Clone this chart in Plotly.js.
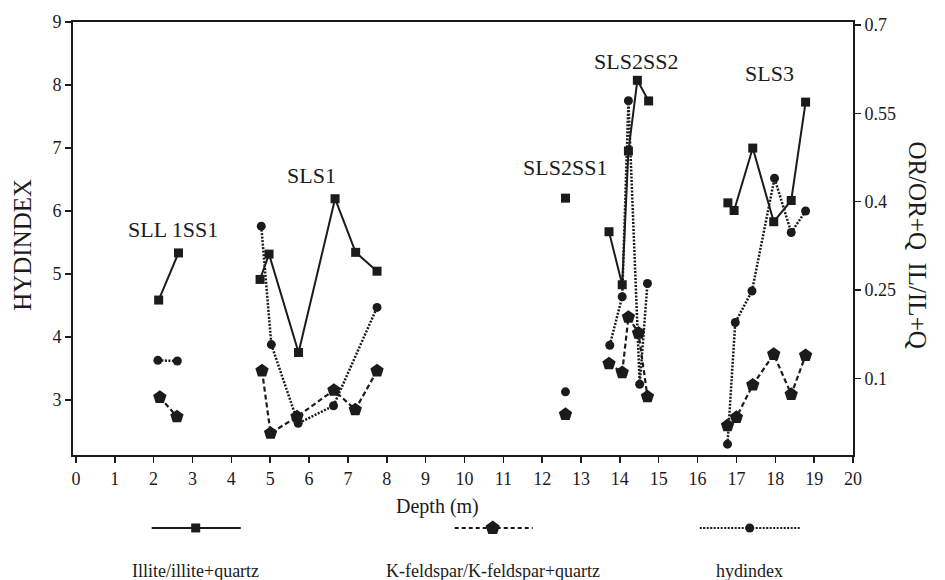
<!DOCTYPE html>
<html>
<head>
<meta charset="utf-8">
<script src="https://cdn.plot.ly/plotly-3.0.1.min.js"></script>
<style>
  html, body { margin: 0; padding: 0; background: #ffffff; }
  #chart { width: 945px; height: 580px; }
</style>
</head>
<body>
<div id="chart"></div>
<script>
// ---- data (depth in m) ----
const illiteDepth = [2.13, 2.64, null, 4.74, 4.97, 5.73, 6.67, 7.20, 7.75, null, 12.60, null, 13.72, 14.06, 14.22, 14.45, 14.74, null, 16.78, 16.94, 17.42, 17.96, 18.41, 18.78];
const illiteRatio = [0.233, 0.313, null, 0.268, 0.311, 0.144, 0.405, 0.314, 0.282, null, 0.406, null, 0.349, 0.259, 0.486, 0.606, 0.571, null, 0.398, 0.385, 0.491, 0.366, 0.402, 0.569];

const kfeldDepth = [2.16, 2.60, null, 4.79, 5.01, 5.69, 6.64, 7.19, 7.75, null, 12.60, null, 13.72, 14.06, 14.22, 14.48, 14.71, null, 16.77, 17.00, 17.42, 17.96, 18.41, 18.78];
const kfeldRatio = [0.068, 0.035, null, 0.113, 0.007, 0.035, 0.080, 0.047, 0.113, null, 0.039, null, 0.125, 0.110, 0.204, 0.177, 0.069, null, 0.020, 0.034, 0.089, 0.141, 0.073, 0.139];

const hydDepth = [2.11, 2.61, null, 4.77, 5.03, 5.72, 6.63, 7.75, null, 12.60, null, 13.74, 14.06, 14.22, 14.51, 14.71, null, 16.77, 16.97, 17.40, 17.98, 18.41, 18.78];
const hydIndex = [3.63, 3.62, null, 5.76, 3.88, 2.63, 2.91, 4.47, null, 3.13, null, 3.87, 4.64, 7.75, 3.25, 4.85, null, 2.30, 4.23, 4.73, 6.52, 5.66, 6.00];

const groupLabels = ["SLL 1SS1", "SLS1", "SLS2SS1", "SLS2SS2", "SLS3"];
const groupLabelDepth = [2.49, 6.06, 12.60, 14.42, 17.85];
const groupLabelHyd = [5.70, 6.57, 6.69, 8.37, 8.19];

const xTicks = [0,1,2,3,4,5,6,7,8,9,10,11,12,13,14,15,16,17,18,19,20];
const yLeftTicks = [3,4,5,6,7,8,9];
const yRightTicks = [0.1, 0.25, 0.4, 0.55, 0.7];
const yRightTickText = ["0.1", "0.25", "0.4", "0.55", "0.7"];

const seriesNames = ["Illite/illite+quartz", "K-feldspar/K-feldspar+quartz", "hydindex"];

// ---- styling ----
const INK = "#1b1b1b";
const FONT = "Liberation Serif, Times New Roman, serif";

const traces = [
  {
    x: illiteDepth, y: illiteRatio, yaxis: "y2", name: seriesNames[0],
    mode: "lines+markers", connectgaps: false,
    line: { color: INK, width: 2 },
    marker: { symbol: "square", size: 9, color: INK }
  },
  {
    x: kfeldDepth, y: kfeldRatio, yaxis: "y2", name: seriesNames[1],
    mode: "lines+markers", connectgaps: false,
    line: { color: INK, width: 2.2, dash: "5px,3px" },
    marker: { symbol: "pentagon", size: 14, color: INK }
  },
  {
    x: hydDepth, y: hydIndex, yaxis: "y", name: seriesNames[2],
    mode: "lines+markers", connectgaps: false,
    line: { color: INK, width: 2.5, dash: "2px,1.5px" },
    marker: { symbol: "circle", size: 9, color: INK }
  }
];

// ---- legend drawn beneath the chart (symbol above text) ----
const L = 73.3, W = 780, B = 455, H = 433.3;
const px = v => (v - L) / W;
const py = v => (B - v) / H;
const legY = 528, legTextY = 571;
const legItems = [
  { x0: 152, x1: 241, mx: 196, dash: "solid", w: 2 },
  { x0: 455, x1: 533, mx: 493, dash: "4px,3px", w: 2 },
  { x0: 700, x1: 800, mx: 750, dash: "2px,1.5px", w: 2 }
];
const shapes = [];
legItems.forEach((it, i) => {
  shapes.push({ type: "line", xref: "paper", yref: "paper", x0: px(it.x0), x1: px(it.x1), y0: py(legY), y1: py(legY),
    line: { color: INK, width: it.w, dash: it.dash } });
});
// square
shapes.push({ type: "rect", xref: "paper", yref: "paper", xsizemode: "pixel", ysizemode: "pixel",
  xanchor: px(legItems[0].mx), yanchor: py(legY), x0: -4.5, x1: 4.5, y0: -4.5, y1: 4.5,
  fillcolor: INK, line: { width: 0 } });
// pentagon
(function(){
  const r = 7.5; let p = "";
  for (let k = 0; k < 5; k++) {
    const a = Math.PI / 2 + k * 2 * Math.PI / 5;
    p += (k === 0 ? "M" : "L") + (r * Math.cos(a)).toFixed(2) + "," + (r * Math.sin(a)).toFixed(2);
  }
  p += "Z";
  shapes.push({ type: "path", xref: "paper", yref: "paper", xsizemode: "pixel", ysizemode: "pixel",
    xanchor: px(legItems[1].mx), yanchor: py(legY), path: p, fillcolor: INK, line: { width: 0 } });
})();
// circle
shapes.push({ type: "circle", xref: "paper", yref: "paper", xsizemode: "pixel", ysizemode: "pixel",
  xanchor: px(legItems[2].mx), yanchor: py(legY), x0: -4.5, x1: 4.5, y0: -4.5, y1: 4.5,
  fillcolor: INK, line: { width: 0 } });

const annotations = [];
groupLabels.forEach((t, i) => {
  annotations.push({ text: t, x: groupLabelDepth[i], y: groupLabelHyd[i], xref: "x", yref: "y",
    xanchor: "center", yanchor: "middle",
    showarrow: false, font: { family: FONT, size: 22, color: INK } });
});
legItems.forEach((it, i) => {
  annotations.push({ text: seriesNames[i], x: px(it.mx), y: py(legTextY), xref: "paper", yref: "paper",
    xanchor: "center", yanchor: "middle",
    showarrow: false, font: { family: FONT, size: 18, color: INK } });
});
annotations.push({ text: "Depth (m)", x: px(438), y: py(507), xref: "paper", yref: "paper",
  xanchor: "center", yanchor: "middle",
  showarrow: false, font: { family: FONT, size: 20, color: INK } });
annotations.push({ text: "HYDINDEX", x: px(22), y: py(245), xref: "paper", yref: "paper",
  xanchor: "center", yanchor: "middle",
  textangle: -90, showarrow: false, font: { family: FONT, size: 25, color: INK } });
annotations.push({ text: "OR/OR+Q&nbsp;&nbsp;IL/IL+Q", x: px(918), y: py(245), xref: "paper", yref: "paper",
  xanchor: "center", yanchor: "middle",
  textangle: 90, showarrow: false, font: { family: FONT, size: 25, color: INK } });

const axisCommon = {
  showgrid: false, zeroline: false, showline: true, linecolor: INK, linewidth: 2,
  ticks: "outside", ticklen: 6, tickwidth: 1.5, tickcolor: INK,
  tickfont: { family: FONT, size: 18, color: INK }
};

const layout = {
  width: 945, height: 580,
  margin: { l: 73.3, r: 91.7, t: 21.7, b: 125, pad: 0 },
  paper_bgcolor: "#ffffff", plot_bgcolor: "#ffffff",
  showlegend: false,
  xaxis: Object.assign({}, axisCommon, {
    range: [-0.075, 20], tickvals: xTicks, mirror: true
  }),
  yaxis: Object.assign({}, axisCommon, {
    range: [2.128, 9], tickvals: yLeftTicks, mirror: false
  }),
  yaxis2: Object.assign({}, axisCommon, {
    overlaying: "y", side: "right", range: [-0.03, 0.705],
    tickvals: yRightTicks, ticktext: yRightTickText
  }),
  shapes: shapes,
  annotations: annotations
};

Plotly.newPlot("chart", traces, layout, { staticPlot: true, displayModeBar: false });
</script>
</body>
</html>
